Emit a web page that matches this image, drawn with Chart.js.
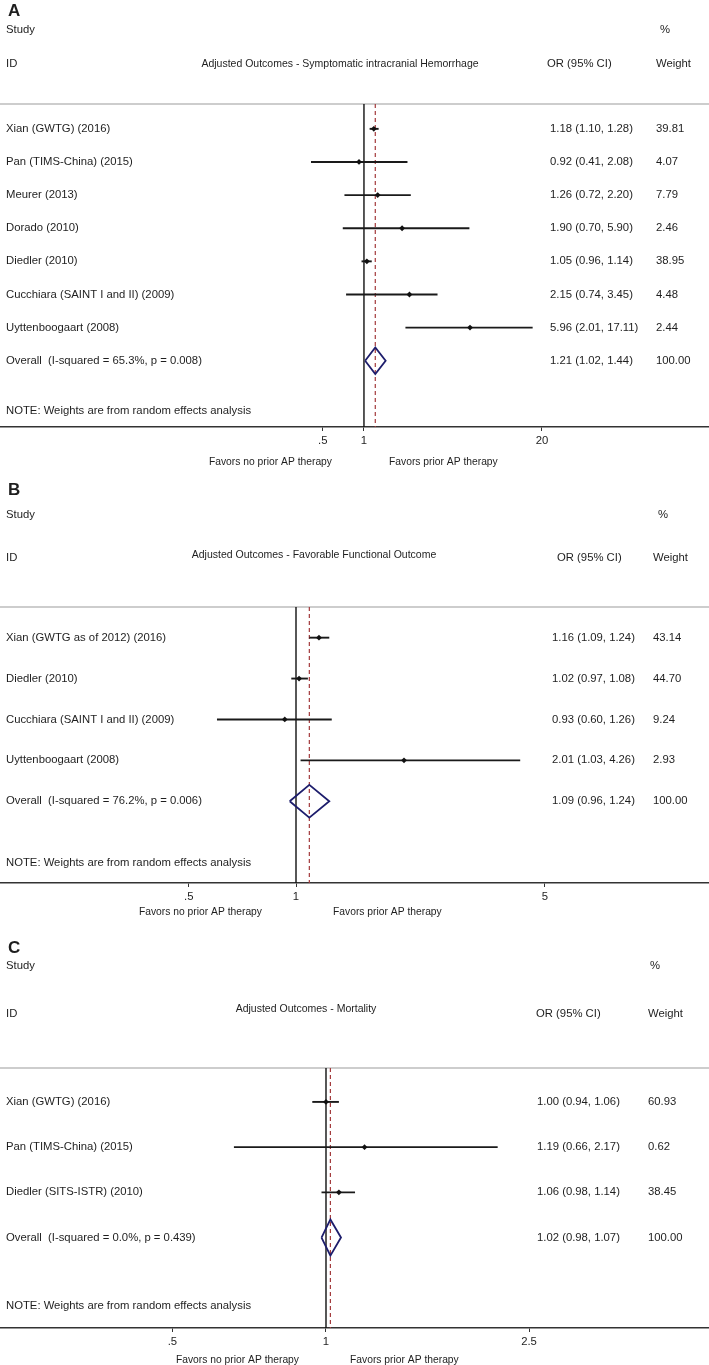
<!DOCTYPE html>
<html>
<head>
<meta charset="utf-8">
<script src="https://cdn.jsdelivr.net/npm/chart.js@4/dist/chart.umd.min.js"></script>
<style>
  body { margin: 0; background: #fff; }
  canvas.panel { position: absolute; left: 0; }
</style>
</head>
<body>
<canvas id="panelA" class="panel" width="709" height="476" style="top:0px"></canvas>
<canvas id="panelB" class="panel" width="709" height="454" style="top:476px"></canvas>
<canvas id="panelC" class="panel" width="709" height="435" style="top:930px"></canvas>
<script>
// ============================
// Data - panel A
// ============================
const titleA = "Adjusted Outcomes - Symptomatic intracranial Hemorrhage";
const studiesA = ["Xian (GWTG) (2016)", "Pan (TIMS-China) (2015)", "Meurer (2013)", "Dorado (2010)",
    "Diedler (2010)", "Cucchiara (SAINT I and II) (2009)", "Uyttenboogaart (2008)"];
const orA = [1.18, 0.92, 1.26, 1.90, 1.05, 2.15, 5.96];
const lowA = [1.10, 0.41, 0.72, 0.70, 0.96, 0.74, 2.01];
const highA = [1.28, 2.08, 2.20, 5.90, 1.14, 3.45, 17.11];
const weightA = [39.81, 4.07, 7.79, 2.46, 38.95, 4.48, 2.44];
const overallA = [1.21, 1.02, 1.44];
const overallLabelA = "Overall  (I-squared = 65.3%, p = 0.008)";
const tickValuesA = [0.5, 1, 20];
const tickLabelsA = [".5", "1", "20"];

// ============================
// Data - panel B
// ============================
const titleB = "Adjusted Outcomes - Favorable Functional Outcome";
const studiesB = ["Xian (GWTG as of 2012) (2016)", "Diedler (2010)", "Cucchiara (SAINT I and II) (2009)", "Uyttenboogaart (2008)"];
const orB = [1.16, 1.02, 0.93, 2.01];
const lowB = [1.09, 0.97, 0.60, 1.03];
const highB = [1.24, 1.08, 1.26, 4.26];
const weightB = [43.14, 44.70, 9.24, 2.93];
const overallB = [1.09, 0.96, 1.24];
const overallLabelB = "Overall  (I-squared = 76.2%, p = 0.006)";
const tickValuesB = [0.5, 1, 5];
const tickLabelsB = [".5", "1", "5"];

// ============================
// Data - panel C
// ============================
const titleC = "Adjusted Outcomes - Mortality";
const studiesC = ["Xian (GWTG) (2016)", "Pan (TIMS-China) (2015)", "Diedler (SITS-ISTR) (2010)"];
const orC = [1.00, 1.19, 1.06];
const lowC = [0.94, 0.66, 0.98];
const highC = [1.06, 2.17, 1.14];
const weightC = [60.93, 0.62, 38.45];
const overallC = [1.02, 0.98, 1.07];
const overallLabelC = "Overall  (I-squared = 0.0%, p = 0.439)";
const tickValuesC = [0.5, 1, 2.5];
const tickLabelsC = [".5", "1", "2.5"];

const overallWeight = 100;
const noteText = "NOTE: Weights are from random effects analysis";
const favorsNo = "Favors no prior AP therapy";
const favorsYes = "Favors prior AP therapy";

// ============================
// Styling
// ============================
const FAMILY = '"Liberation Sans", Arial, Helvetica, sans-serif';
const TEXT = '#1e1e1e';
Chart.defaults.font.family = FAMILY;
Chart.defaults.color = TEXT;

function fmt(v) { return v.toFixed(2); }

// ============================
// One forest plot
// ============================
function makePanel(p) {
    const n = p.studies.length;
    const yMin = 0.25, yMax = n + 3;
    const overallRow = n + 1;
    const [oEst, oLow, oHigh] = p.overall;

    const datasets = [];
    // point estimates
    datasets.push({
        data: p.or.map((v, i) => ({ x: v, y: i + 1 })),
        showLine: false, pointStyle: 'rectRot', pointRadius: 2.9,
        pointBackgroundColor: '#111', pointBorderWidth: 0
    });
    // confidence intervals
    p.low.forEach((lo, i) => {
        datasets.push({
            data: [{ x: lo, y: i + 1 }, { x: p.high[i], y: i + 1 }],
            showLine: true, borderColor: '#1a1a1a', borderWidth: 1.9, pointRadius: 0
        });
    });
    // overall diamond
    datasets.push({
        data: [{ x: oLow, y: overallRow }, { x: oEst, y: overallRow - 0.4 }, { x: oHigh, y: overallRow },
               { x: oEst, y: overallRow + 0.4 }, { x: oLow, y: overallRow }],
        showLine: true, borderColor: '#1d1d6c', borderWidth: 1.8, pointRadius: 0,
        tension: 0, borderJoinStyle: 'miter', fill: false
    });
    // overall estimate (dashed)
    datasets.push({
        data: [{ x: oEst, y: yMin }, { x: oEst, y: yMax }],
        showLine: true, borderColor: '#a3393b', borderWidth: 1.2, borderDash: [4, 3], pointRadius: 0
    });
    // no effect line
    datasets.push({
        data: [{ x: 1, y: yMin }, { x: 1, y: yMax }],
        showLine: true, borderColor: '#111', borderWidth: 1.4, pointRadius: 0
    });

    const textPlugin = {
        id: 'forestText',
        beforeDatasetsDraw(chart) {
            const ctx = chart.ctx, area = chart.chartArea;
            ctx.save();
            ctx.strokeStyle = '#cdcdcd';
            ctx.lineWidth = 2;
            ctx.beginPath();
            ctx.moveTo(0, area.top);
            ctx.lineTo(chart.width, area.top);
            ctx.stroke();
            ctx.restore();
        },
        afterDraw(chart) {
            const ctx = chart.ctx, ys = chart.scales.y, area = chart.chartArea;
            const font = '11.3px ' + FAMILY;
            ctx.save();
            ctx.fillStyle = TEXT;
            ctx.textBaseline = 'middle';
            ctx.textAlign = 'left';

            ctx.font = 'bold 17px ' + FAMILY;
            ctx.fillText(p.letter, 8, p.letterY);

            // headers
            ctx.font = font;
            const studyY = ys.getPixelForValue(-2);
            const idY = ys.getPixelForValue(-0.95);
            ctx.fillText('Study', 6, studyY);
            ctx.fillText('%', p.pctX, studyY);
            ctx.fillText('ID', 6, idY);
            ctx.fillText('OR (95% CI)', p.orHeadX, idY);
            ctx.fillText('Weight', p.wX, idY);
            ctx.font = '10.5px ' + FAMILY;
            ctx.textAlign = 'center';
            ctx.fillText(p.title, p.titleX, idY + p.titleDy);
            ctx.textAlign = 'left';

            // study rows
            ctx.font = font;
            p.studies.forEach((s, i) => {
                const y = ys.getPixelForValue(i + 1);
                ctx.fillText(s, 6, y);
                ctx.fillText(fmt(p.or[i]) + ' (' + fmt(p.low[i]) + ', ' + fmt(p.high[i]) + ')', p.orX, y);
                ctx.fillText(fmt(p.weight[i]), p.wX, y);
            });
            const oy = ys.getPixelForValue(overallRow);
            ctx.fillText(p.overallLabel, 6, oy);
            ctx.fillText(fmt(oEst) + ' (' + fmt(oLow) + ', ' + fmt(oHigh) + ')', p.orX, oy);
            ctx.fillText(fmt(overallWeight), p.wX, oy);
            ctx.fillText(noteText, 6, ys.getPixelForValue(n + 2.5));

            // favors labels
            ctx.font = '10.3px ' + FAMILY;
            const fy = area.bottom + p.favorsDy;
            ctx.textAlign = 'right';
            ctx.fillText(favorsNo, p.favorsNoEnd, fy);
            ctx.textAlign = 'left';
            ctx.fillText(favorsYes, p.favorsYesX, fy);
            ctx.restore();
        }
    };

    return new Chart(document.getElementById(p.canvas), {
        type: 'scatter',
        data: { datasets: datasets },
        options: {
            responsive: false,
            animation: false,
            devicePixelRatio: 1,
            layout: { autoPadding: false, padding: { top: p.padTop, bottom: p.padBottom, left: 0, right: 0 } },
            plugins: { legend: { display: false }, tooltip: { enabled: false } },
            scales: {
                x: {
                    type: 'logarithmic',
                    position: 'bottom',
                    min: p.xMin,
                    max: p.xMax,
                    bounds: 'data',
                    afterBuildTicks: (scale) => { scale.ticks = p.tickValues.map(v => ({ value: v })); },
                    afterFit: (scale) => { scale.height = 22; },
                    grid: { display: true, drawOnChartArea: false, drawTicks: true, tickLength: 4, color: '#333', lineWidth: 1 },
                    border: { display: true, color: '#333', width: 1.5 },
                    ticks: {
                        autoSkip: false, maxRotation: 0, padding: 3.5, color: TEXT,
                        font: { size: 11.3 },
                        callback: (v, i) => p.tickLabels[i]
                    }
                },
                y: { type: 'linear', display: false, reverse: true, min: yMin, max: yMax }
            }
        },
        plugins: [textPlugin]
    });
}

// ============================
// Build the three panels
// ============================
makePanel({
    canvas: 'panelA', letter: 'A', letterY: 11, title: titleA,
    studies: studiesA, or: orA, low: lowA, high: highA, weight: weightA,
    overall: overallA, overallLabel: overallLabelA,
    tickValues: tickValuesA, tickLabels: tickLabelsA,
    xMin: 0.002183, xMax: 333.1, padTop: 104, padBottom: 27,
    titleX: 340, titleDy: 0, orHeadX: 547, orX: 550, wX: 656, pctX: 660,
    favorsNoEnd: 332, favorsYesX: 389, favorsDy: 35
});

makePanel({
    canvas: 'panelB', letter: 'B', letterY: 14, title: titleB,
    studies: studiesB, or: orB, low: lowB, high: highB, weight: weightB,
    overall: overallB, overallLabel: overallLabelB,
    tickValues: tickValuesB, tickLabels: tickLabelsB,
    xMin: 0.14758, xMax: 14.435, padTop: 131, padBottom: 25,
    titleX: 314, titleDy: -3, orHeadX: 557, orX: 552, wX: 653, pctX: 658,
    favorsNoEnd: 262, favorsYesX: 333, favorsDy: 29
});

makePanel({
    canvas: 'panelC', letter: 'C', letterY: 18, title: titleC,
    studies: studiesC, or: orC, low: lowC, high: highC, weight: weightC,
    overall: overallC, overallLabel: overallLabelC,
    tickValues: tickValuesC, tickLabels: tickLabelsC,
    xMin: 0.22967, xMax: 5.6315, padTop: 138, padBottom: 15,
    titleX: 306, titleDy: -5, orHeadX: 536, orX: 537, wX: 648, pctX: 650,
    favorsNoEnd: 299, favorsYesX: 350, favorsDy: 32
});
</script>
</body>
</html>
